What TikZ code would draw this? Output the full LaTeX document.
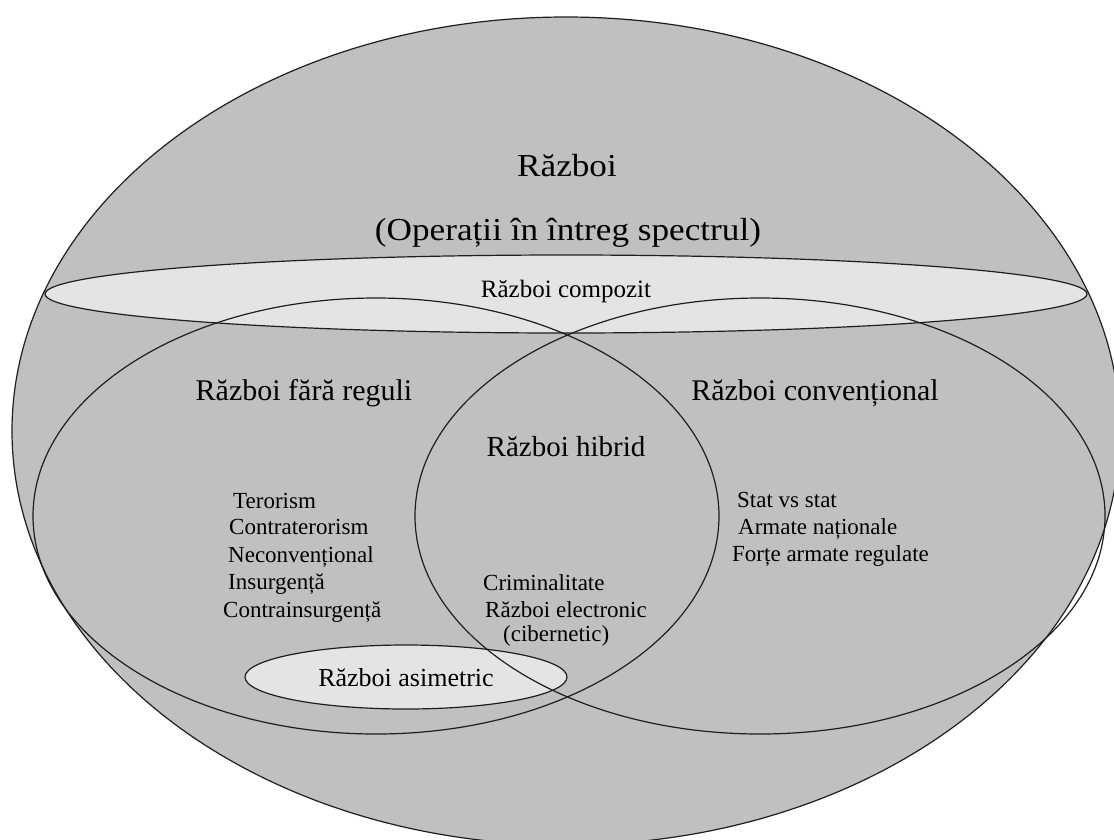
\documentclass[tikz,border=0pt]{standalone}
\usepackage{fontspec}
\setmainfont{Liberation Serif}
\newfontfamily\titlefont[FakeStretch=1.1]{Liberation Serif}
\definecolor{bggray}{HTML}{C0C0C0}
\definecolor{lightfill}{HTML}{E4E4E4}
\definecolor{lineclr}{HTML}{1E1E1E}
\begin{document}
\begin{tikzpicture}[x=1pt,y=-1pt,
  outline/.style={draw=lineclr, line width=1.2pt},
  lbl/.style={inner sep=0pt, anchor=base, text=black},
  lst/.style={inner sep=0pt, anchor=base west, text=black, font=\fontsize{23}{28}\selectfont},
]
\useasboundingbox (0,0) rectangle (1114,839);
\clip (0,0) rectangle (1114,839);
\fill[white] (0,0) rectangle (1114,839);
% centres of the shapes
\coordinate (W) at (566,431);
\coordinate (C) at (566,294);
\coordinate (L) at (376,516);
\coordinate (R) at (760,516);
\coordinate (A) at (406,677);
% fills
\fill[bggray] (W) ellipse [x radius=554pt, y radius=414pt];
\fill[lightfill] (C) ellipse [x radius=521pt, y radius=39pt];
\fill[lightfill] (A) ellipse [x radius=161pt, y radius=32pt];
% outlines
\draw[outline] (W) ellipse [x radius=554pt, y radius=414pt];
\draw[outline] (L) ellipse [x radius=343pt, y radius=218pt];
\draw[outline] (R) ellipse [x radius=345pt, y radius=218pt];
\draw[outline] (C) ellipse [x radius=521pt, y radius=39pt];
\draw[outline] (A) ellipse [x radius=161pt, y radius=32pt];
% titles
\node[lbl, font=\titlefont\fontsize{32}{38}\selectfont] (t1) at (567,176) {Război};
\node[lbl, font=\titlefont\fontsize{32}{38}\selectfont] (t2) at (568,240) {(Operații în întreg spectrul)};
\node[lbl, font=\fontsize{25}{30}\selectfont] (comp) at (566,297) {Război compozit};
\node[lbl, font=\fontsize{30}{36}\selectfont] (fara) at (304,400) {Război fără reguli};
\node[lbl, font=\fontsize{30}{36}\selectfont] (conv) at (815,400) {Război convențional};
\node[lbl, font=\fontsize{29}{34}\selectfont] (hib) at (566,456) {Război hibrid};
\node[lbl, font=\fontsize{26}{31}\selectfont] (asim) at (406,686) {Război asimetric};
% left list
\node[lst] (l1) at (233,508) {Terorism};
\node[lst] (l2) at (229,534) {Contraterorism};
\node[lst] (l3) at (228,562) {Neconvențional};
\node[lst] (l4) at (228,589) {Insurgență};
\node[lst] (l5) at (223,617) {Contrainsurgență};
% right list
\node[lst] (r1) at (737,507) {Stat vs stat};
\node[lst] (r2) at (738,534) {Armate naționale};
\node[lst] (r3) at (732,561) {Forțe armate regulate};
% centre list
\node[lst] (c1) at (483,590) {Criminalitate};
\node[lst] (c2) at (485,617) {Război electronic};
\node[lst] (c3) at (503,641) {(cibernetic)};
\end{tikzpicture}
\end{document}
